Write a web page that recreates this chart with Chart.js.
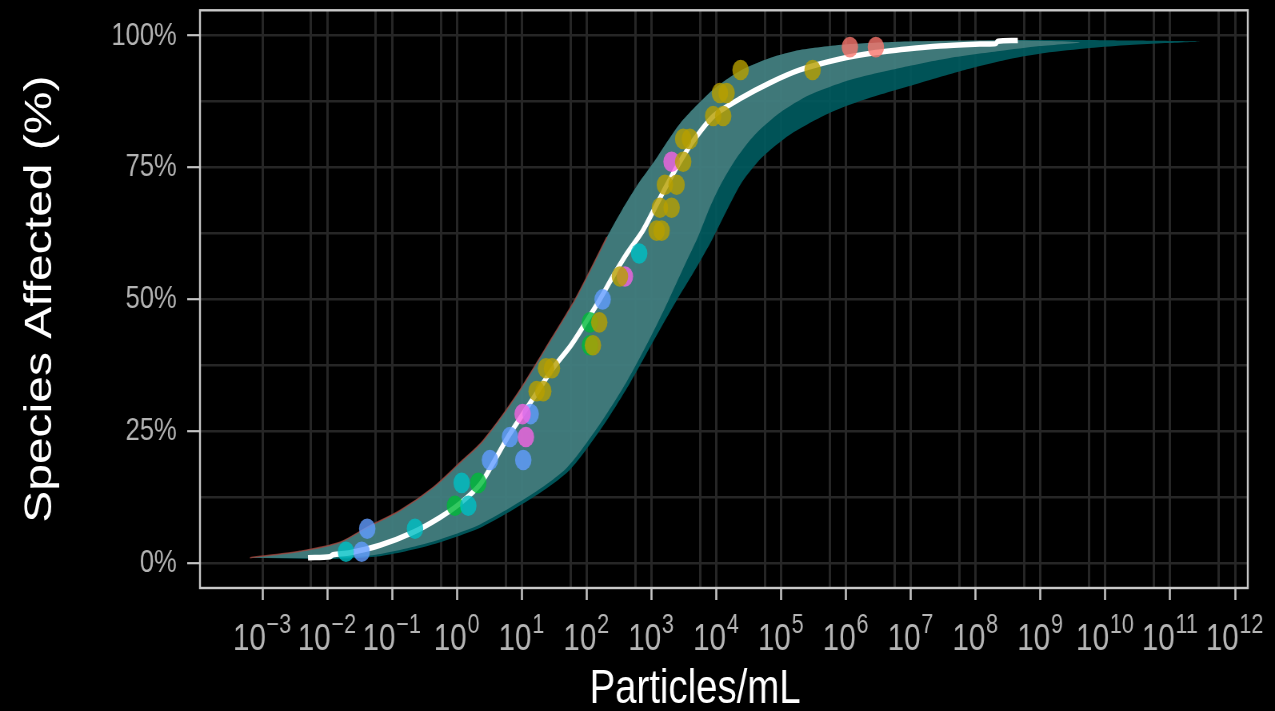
<!DOCTYPE html>
<html><head><meta charset="utf-8">
<script src="https://cdn.jsdelivr.net/npm/chart.js@4.4.1/dist/chart.umd.min.js"></script>
<style>
html,body{margin:0;padding:0;background:#000;overflow:hidden;width:1275px;height:711px}
#c{display:block;transform:scaleX(0.79987);transform-origin:0 0}
</style>
</head><body>
<canvas id="c" width="1594" height="711"></canvas>
<script>
// ---------- data (x as log10 of particles/mL, y as % species affected) ----------
const xTickExponents = [-3,-2,-1,0,1,2,3,4,5,6,7,8,9,10,11,12];
const yTickValues = [0,25,50,75,100];
const xTitle = 'Particles/mL';
const yTitle = 'Species Affected (%)';

const redX   = [6.06, 6.46];
const redY   = [97.83, 97.83];
const oliveX = [1.228,1.33,1.372,1.464,2.096,2.194,2.513,3.079,3.156,3.13,3.31,3.207,3.387,3.489,3.489,3.592,3.951,4.106,4.055,4.158,4.374,5.484];
const oliveY = [32.61,32.61,36.96,36.96,41.30,45.65,54.35,63.04,63.04,67.39,67.39,71.74,71.74,76.09,80.43,80.43,84.78,84.78,89.13,89.13,93.48,93.48];
const greenX = [-0.032,0.328,2.05,2.05];
const greenY = [10.87,15.22,41.30,45.65];
const cyanX  = [-1.712,-0.648,0.174,0.072,2.81];
const cyanY  = [2.17,6.52,10.87,15.22,58.70];
const blueX  = [-1.47,-1.384,0.508,1.022,0.817,1.136,2.246];
const blueY  = [2.17,6.52,19.57,19.57,23.91,28.26,50.0];
const pinkX  = [1.063,1.012,2.59,3.31];
const pinkY  = [23.91,28.26,54.35,76.09];

// fitted curve
const fitX = [-2.298,-1.959,-1.913,-1.651,-1.188,-0.679,-0.263,0.045,0.354,0.585,0.786,1.017,1.248,1.48,1.757,1.988,2.204,2.405,2.621,2.867,3.052,3.237,3.438,3.669,3.962,4.363,4.826,5.288,5.905,6.414,6.938,7.447,8.064,8.311,8.341,8.65];
const fitY = [1.04,1.23,1.60,1.98,3.39,5.84,8.67,11.31,14.89,19.60,23.94,28.28,32.61,36.95,41.28,45.69,50.01,54.36,58.70,63.05,67.35,71.69,76.10,80.49,84.83,88.03,91.05,93.50,95.57,96.70,97.46,98.02,98.40,98.49,98.96,99.10];

// confidence band edges
const leftEdgeX = [-3.193,-2.422,-1.805,-1.389,-0.88,-0.371,0.045,0.40,0.909,1.356,1.819,2.081,2.312,2.544,2.790,3.052,3.438,3.947,4.363,4.826,5.288,6.059,6.83,8.372];
const leftEdgeY = [1.04,2.26,3.96,6.79,9.99,14.33,19.04,23.19,31.67,40.53,49.95,56.17,61.83,66.92,71.82,76.34,83.31,89.73,93.31,95.76,97.27,98.40,98.87,99.15];
const bandFarX = [9.914,11.456];
const bandFarY = [99.15,98.91];
const lightEdgeX = [-2.113,-1.296,-0.463,0.354,1.171,1.695,2.204,2.621,2.975,3.253,3.500,3.716,3.901,4.086,4.317,4.594,4.980,5.443,6.059,6.830,7.601,8.372,8.989,9.606];
const lightEdgeY = [0.94,1.51,3.77,7.35,13.20,18.10,26.39,34.50,42.60,49.58,56.17,61.83,67.48,72.20,76.91,81.24,85.39,88.78,91.61,93.87,95.76,97.08,98.02,98.77];
const darkEdgeX = [-1.959,-1.188,-0.417,0.40,1.217,1.742,2.251,2.667,3.052,3.376,3.654,3.916,4.147,4.394,4.702,5.134,5.751,6.368,7.139,7.833,8.527,9.066,9.760,10.377,10.917];
const darkEdgeY = [0.75,1.32,3.39,6.97,12.82,17.72,26.01,34.12,42.60,49.58,55.23,60.89,66.54,72.20,76.91,81.24,85.39,88.22,91.05,93.50,95.57,96.70,97.64,98.21,98.59];

// ---------- build ----------
const P = (xs, ys) => xs.map((e, i) => ({x: Math.pow(10, e), y: ys[i]}));
const FONT = "'Liberation Sans', Arial, Helvetica, sans-serif";

const lightPoly = P(leftEdgeX, leftEdgeY).concat(P(lightEdgeX, lightEdgeY).reverse());
const darkPoly  = P(leftEdgeX.concat(bandFarX), leftEdgeY.concat(bandFarY)).concat(P(darkEdgeX, darkEdgeY).reverse());
const redFringe = P(leftEdgeX.slice(0, 13), leftEdgeY.slice(0, 13));

const pts = (data, color, order) => ({
  data, showLine: false, pointRadius: 10.3, pointHoverRadius: 10.3, pointBorderWidth: 0,
  pointBackgroundColor: color, backgroundColor: color, borderColor: color, order
});

const framePlugin = {
  id: 'frame',
  beforeDraw(chart) {
    const c = chart.ctx; c.save(); c.fillStyle = '#000';
    c.fillRect(0, 0, chart.width, chart.height); c.restore();
  },
  afterDraw(chart) {
    const a = chart.chartArea, c = chart.ctx;
    c.save(); c.strokeStyle = '#c9c9c9'; c.lineWidth = 2.4;
    c.strokeRect(a.left, a.top, a.right - a.left, a.bottom - a.top);
    // x tick labels: 10 with raised exponent
    const s = chart.scales.x;
    c.fillStyle = '#b5b5b5'; c.textAlign = 'left'; c.textBaseline = 'alphabetic';
    const yb = s.top + 62;
    xTickExponents.forEach(e => {
      const x = s.getPixelForValue(Math.pow(10, e));
      const base = '10', ex = String(e).replace('-', '\u2212');
      c.font = '37px ' + FONT; const wb = c.measureText(base).width;
      c.font = '27px ' + FONT; const we = c.measureText(ex).width;
      const x0 = x - (wb + we) / 2 - 1;
      c.font = '37px ' + FONT; c.fillText(base, x0, yb);
      c.font = '27px ' + FONT; c.fillText(ex, x0 + wb + 1, yb - 17);
    });
    // x axis title
    c.fillStyle = '#ffffff'; c.textAlign = 'center';
    c.font = '48px ' + FONT;
    c.fillText(xTitle, (a.left + a.right) / 2 - 36, s.bottom - 8);
    c.restore();
  }
};

const xMinor = xTickExponents.slice(0, -1).map(k => k + 0.75);
const yMinor = [12.5, 37.5, 62.5, 87.5];

new Chart(document.getElementById('c'), {
  type: 'line',
  data: {
    datasets: [
      pts(P(oliveX, oliveY), 'rgba(183,159,0,0.8)', 1),
      pts(P(pinkX, pinkY), 'rgba(245,100,227,0.8)', 2),
      pts(P(blueX, blueY), 'rgba(97,156,255,0.8)', 3),
      pts(P(cyanX, cyanY), 'rgba(0,191,196,0.8)', 4),
      pts(P(greenX, greenY), 'rgba(0,186,56,0.8)', 5),
      pts(P(redX, redY), 'rgba(248,118,109,0.8)', 6),
      {data: P(fitX, fitY), showLine: true, borderColor: '#ffffff', borderWidth: 5.5, pointRadius: 0, tension: 0.3, fill: false, order: 7},
      {data: redFringe, showLine: true, borderColor: 'rgba(170,70,60,0.75)', borderWidth: 1.5, pointRadius: 0, tension: 0.3, fill: false, order: 8},
      {data: lightPoly, showLine: true, borderWidth: 0, borderColor: 'rgba(0,0,0,0)', backgroundColor: 'rgba(150,172,170,0.42)', pointRadius: 0, tension: 0.25, fill: 'shape', order: 9},
      {data: darkPoly, showLine: true, borderWidth: 0, borderColor: 'rgba(0,0,0,0)', backgroundColor: 'rgba(0,92,97,0.9)', pointRadius: 0, tension: 0.25, fill: 'shape', order: 10}
    ]
  },
  options: {
    responsive: false, animation: false, devicePixelRatio: 1,
    layout: {padding: {left: 0, right: 34, top: 7, bottom: 0}},
    plugins: {legend: {display: false}, tooltip: {enabled: false}},
    events: [],
    scales: {
      x: {
        type: 'logarithmic', min: Math.pow(10, -3.964), max: Math.pow(10, 12.197),
        afterBuildTicks: s => {
          s.ticks = xTickExponents.map(e => ({value: Math.pow(10, e), major: true}))
            .concat(xMinor.map(e => ({value: Math.pow(10, e), major: false})))
            .sort((a, b) => a.value - b.value);
        },
        afterFit: s => { s.height = 123; s.paddingLeft = 0; s.paddingRight = 0; },
        border: {display: false},
        grid: {color: '#262626', lineWidth: 3, drawTicks: true, tickLength: 12, tickWidth: 2.6,
               tickColor: c => (c.tick && c.tick.major) ? '#c4c4c4' : 'rgba(0,0,0,0)'},
        ticks: {autoSkip: false, maxRotation: 0, minRotation: 0, color: '#b5b5b5', padding: 6,
                font: {family: FONT, size: 10}, callback: () => ''},
        title: {display: false}
      },
      y: {
        type: 'linear', min: -4.71, max: 104.81,
        afterBuildTicks: s => {
          s.ticks = yTickValues.map(v => ({value: v, major: true}))
            .concat(yMinor.map(v => ({value: v, major: false})))
            .sort((a, b) => a.value - b.value);
        },
        afterFit: s => { s.width = 250; s.paddingTop = 0; s.paddingBottom = 0; },
        border: {display: false},
        grid: {color: '#262626', lineWidth: 2.4, drawTicks: true, tickLength: 16, tickWidth: 2.2,
               tickColor: c => (c.tick && c.tick.major) ? '#c4c4c4' : 'rgba(0,0,0,0)'},
        ticks: {color: '#b3b3b3', padding: 13, font: {family: FONT, size: 32},
                callback: (v, i, t) => t[i].major ? v + '%' : ''},
        title: {display: true, text: yTitle, color: '#ffffff', font: {family: FONT, size: 48}, padding: {top: 22, bottom: 0}}
      }
    }
  },
  plugins: [framePlugin]
});
</script>
</body></html>
